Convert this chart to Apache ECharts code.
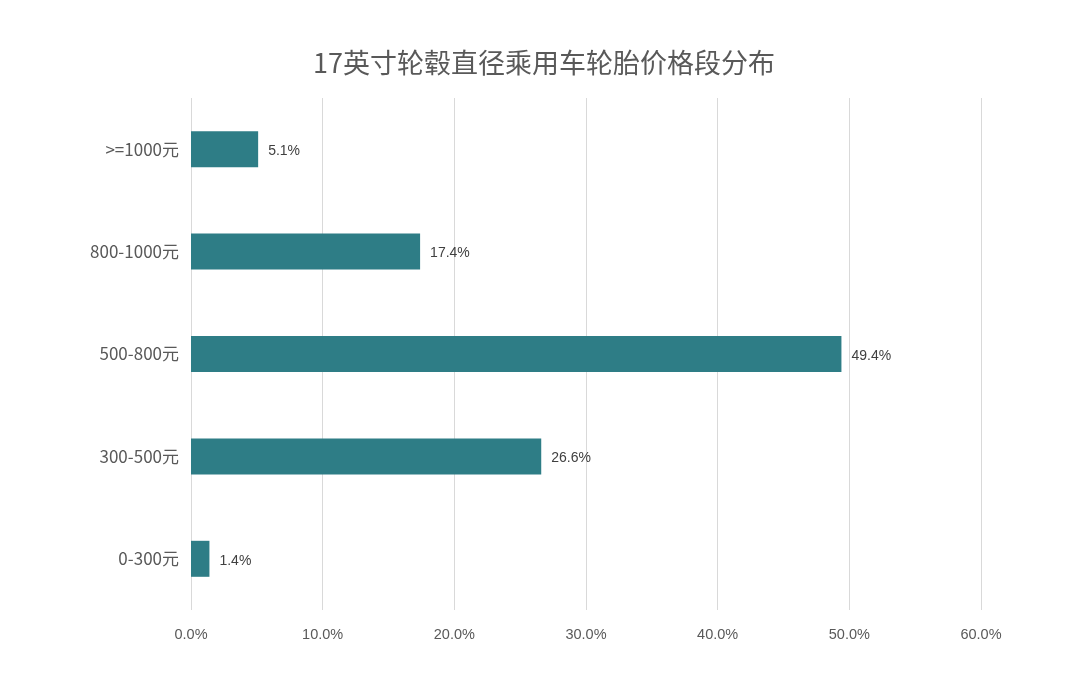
<!DOCTYPE html>
<html><head><meta charset="utf-8">
<script src="https://cdn.jsdelivr.net/npm/echarts@6/dist/echarts.min.js"></script>
<style>html,body{margin:0;padding:0;background:#fff}#c{width:1069px;height:696px}</style>
</head><body><div id="c"></div>
<script>
const categories = ['0-300元','300-500元','500-800元','800-1000元','>=1000元'];
const values = [1.4, 26.6, 49.4, 17.4, 5.1];
const xTicks = [0, 10, 20, 30, 40, 50, 60];
const chart = echarts.init(document.getElementById('c'));
chart.setOption({
  animation: false,
  backgroundColor: '#fff',
  title: {
    text: '17英寸轮毂直径乘用车轮胎价格段分布',
    left: 308, top: 44,
    textStyle: {fontFamily: 'Noto Sans CJK SC', fontSize: 27, fontWeight: 'normal', color: '#595959'}
  },
  grid: {left: 191, right: 88, top: 98, bottom: 86},
  xAxis: {
    type: 'value', min: xTicks[0], max: xTicks[xTicks.length-1], interval: 10,
    axisLine: {show: false}, axisTick: {show: false},
    splitLine: {lineStyle: {color: '#d9d9d9', width: 1}},
    axisLabel: {formatter: v => v.toFixed(1) + '%', color: '#595959', fontSize: 14.5, margin: 17, fontFamily: 'Liberation Sans'}
  },
  yAxis: {
    type: 'category', data: categories,
    axisLine: {show: false}, axisTick: {show: false},
    axisLabel: {color: '#595959', fontSize: 17, margin: 12, fontFamily: 'Noto Sans CJK SC'}
  },
  series: [{
    type: 'bar', data: values, barWidth: 36,
    itemStyle: {color: '#2e7d86'},
    label: {show: true, position: 'right', distance: 10, offset: [0, 2], formatter: p => p.value.toFixed(1) + '%', color: '#404040', fontSize: 14, fontFamily: 'Liberation Sans'}
  }]
});
</script></body></html>
